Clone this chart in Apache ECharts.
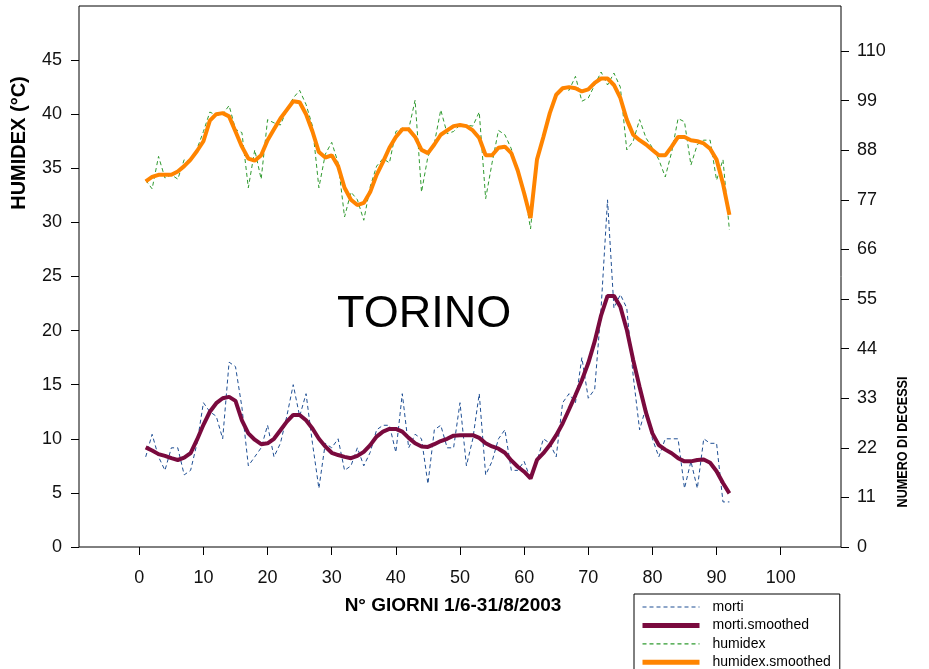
<!DOCTYPE html>
<html>
<head>
<meta charset="utf-8">
<script src="https://cdn.jsdelivr.net/npm/echarts@6/dist/echarts.min.js"></script>
<style>
  html, body { margin: 0; padding: 0; background: #fff; }
  #chart { width: 929px; height: 669px; }
</style>
</head>
<body>
<div id="chart"></div>
<script>
// Daily humidex (°C) and deaths, Torino, 1 June - 31 August 2003 (day 1..92)
const humidex = [
  33.9, 33.1, 36.1, 34.1, 34.4, 34.0, 35.8, 35.6, 36.8, 38.4,
  40.2, 39.9, 40.0, 40.8, 38.6, 38.3, 33.2, 36.7, 34.0, 39.5,
  39.2, 39.0, 40.4, 41.5, 42.2, 40.9, 38.9, 33.2, 36.3, 37.4,
  35.5, 30.5, 32.8, 32.1, 30.2, 33.3, 35.2, 35.9, 35.5, 38.4,
  38.7, 38.6, 41.3, 32.8, 36.1, 37.3, 40.4, 38.2, 38.4, 39.0,
  39.0, 38.9, 40.2, 32.2, 35.5, 38.5, 38.1, 36.8, 34.8, 33.0,
  29.4, 35.8, 38.1, 40.1, 41.6, 42.5, 42.2, 43.5, 41.2, 41.5,
  42.7, 43.9, 42.7, 43.8, 42.5, 36.7, 37.5, 39.5, 37.8, 36.9,
  35.8, 34.2, 36.5, 39.6, 39.3, 35.3, 37.2, 37.6, 37.6, 33.9,
  35.8, 29.3
];
const humidexSmoothed = [
  33.8, 34.2, 34.4, 34.4, 34.4, 34.7, 35.2, 35.8, 36.6, 37.5,
  39.4, 40.0, 40.1, 39.8, 38.4, 37.0, 35.9, 35.7, 36.2, 37.6,
  38.6, 39.6, 40.4, 41.2, 41.1, 40.0, 38.4, 36.5, 36.0, 36.2,
  35.2, 33.2, 32.1, 31.6, 31.8, 32.8, 34.4, 35.6, 36.9, 37.9,
  38.6, 38.6, 37.9, 36.7, 36.4, 37.2, 38.1, 38.5, 38.9, 39.0,
  38.9, 38.5, 37.8, 36.2, 36.2, 36.9, 37.0, 36.4, 34.8, 32.7,
  30.4, 35.8, 37.9, 40.1, 41.8, 42.4, 42.5, 42.4, 42.1, 42.3,
  42.9, 43.3, 43.3, 42.7, 41.5, 39.5, 38.1, 37.6, 37.2, 36.7,
  36.2, 36.2, 37.0, 37.9, 37.9, 37.6, 37.5, 37.3, 36.8, 35.8,
  33.6, 30.7
];
const morti = [
  20, 25, 20, 17, 22, 22, 16, 17, 23, 32,
  30, 29, 24, 41, 40, 31, 18, 20, 22, 27,
  20, 23, 29, 36, 29, 34, 23, 13, 23, 22,
  24, 17, 18, 22, 18, 21, 26, 27, 27, 21,
  34, 22, 25, 24, 14, 26, 27, 22, 22, 32,
  18, 24, 34, 16, 19, 24, 26, 17, 17, 19,
  15, 19, 24, 23, 20, 32, 34, 32, 42, 33,
  35, 53, 77, 53, 56, 53, 38, 26, 31, 24,
  20, 24, 24, 24, 13, 19, 13, 24, 23, 23,
  10, 10
];
const mortiSmoothed = [
  22.1, 21.4, 20.6, 20.2, 19.7, 19.3, 19.8, 20.8, 23.8, 27.1,
  30.0, 31.9, 33.0, 33.3, 32.4, 28.1, 25.2, 23.8, 22.8, 23.0,
  24.0, 25.9, 27.8, 29.3, 29.3, 28.1, 26.3, 24.0, 22.3, 20.9,
  20.4, 20.0, 19.7, 20.2, 21.1, 22.6, 24.5, 25.6, 26.2, 26.2,
  25.6, 24.2, 23.0, 22.3, 22.2, 22.8, 23.5, 24.0, 24.7, 24.8,
  24.8, 24.8, 24.2, 23.0, 22.3, 21.8, 20.9, 19.2, 17.8, 16.7,
  15.2, 19.3, 20.8, 22.6, 24.8, 27.4, 30.5, 33.7, 37.0, 40.8,
  45.6, 51.4, 55.7, 55.7, 53.3, 48.2, 41.5, 35.5, 29.8, 25.2,
  22.6, 21.6, 20.8, 19.7, 19.0, 19.0, 19.3, 19.4, 18.7, 16.8,
  14.2, 11.9
];

const xTicks = [0, 10, 20, 30, 40, 50, 60, 70, 80, 90, 100];
const humidexTicks = [0, 5, 10, 15, 20, 25, 30, 35, 40, 45];
const mortiTicks = [0, 11, 22, 33, 44, 55, 66, 77, 88, 99, 110];

const FONT = '"Liberation Sans", Arial, sans-serif';
const pairs = arr => arr.map((v, i) => [i + 1, v]);

const COLORS = {
  morti: '#1f4f94',
  mortiSmoothed: '#7a0a3e',
  humidex: '#2f9a2f',
  humidexSmoothed: '#ff8400'
};

const chart = echarts.init(document.getElementById('chart'), null, { renderer: 'canvas' });

const tickStyle = { color: '#000', width: 1 };
const labelStyle = { fontSize: 18, color: '#111', fontFamily: FONT };
const hiddenLine = { show: false, onZero: false };

chart.setOption({
  animation: false,
  backgroundColor: '#fff',
  grid: {
    left: 79, right: 88, top: 6, bottom: 122,
    show: true, borderColor: '#000', borderWidth: 1,
    outerBoundsMode: 'none'
  },
  xAxis: {
    type: 'value', min: -9.4, max: 109.4,
    axisLine: hiddenLine,
    splitLine: { show: false },
    axisTick: { show: true, length: 8, customValues: xTicks, lineStyle: tickStyle },
    axisLabel: Object.assign({ customValues: xTicks, margin: 22 }, labelStyle)
  },
  yAxis: [
    {
      type: 'value', min: 0, max: 50, position: 'left',
      axisLine: hiddenLine,
      splitLine: { show: false },
      axisTick: { show: true, length: 8, customValues: humidexTicks, lineStyle: tickStyle },
      axisLabel: Object.assign({ customValues: humidexTicks, margin: 17 }, labelStyle)
    },
    {
      type: 'value', min: 0, max: 120, position: 'right',
      axisLine: hiddenLine,
      splitLine: { show: false },
      axisTick: { show: true, length: 8, customValues: mortiTicks, lineStyle: tickStyle },
      axisLabel: Object.assign({ customValues: mortiTicks, margin: 16 }, labelStyle)
    }
  ],
  legend: {
    orient: 'vertical',
    left: 634, top: 594, height: 140,
    padding: [6, 9, 30, 6],
    itemWidth: 57, itemHeight: 12, itemGap: 4.4,
    borderColor: '#000', borderWidth: 1, borderRadius: 0,
    backgroundColor: '#fff',
    itemStyle: { opacity: 0 },
    textStyle: { fontSize: 14, lineHeight: 12, color: '#000', fontFamily: FONT, padding: [0, 0, 0, 8] },
    data: [
      { name: 'morti', lineStyle: { width: 1.2, type: [4, 3], color: COLORS.morti } },
      { name: 'morti.smoothed', lineStyle: { width: 5, color: COLORS.mortiSmoothed } },
      { name: 'humidex', lineStyle: { width: 1.2, type: [4, 3], color: COLORS.humidex } },
      { name: 'humidex.smoothed', lineStyle: { width: 5, color: COLORS.humidexSmoothed } }
    ]
  },
  series: [
    {
      name: 'morti', type: 'line', yAxisIndex: 1,
      data: pairs(morti), symbol: 'none',
      lineStyle: { color: COLORS.morti, width: 1, type: [4, 3] },
      itemStyle: { color: COLORS.morti }, z: 2
    },
    {
      name: 'morti.smoothed', type: 'line', yAxisIndex: 1,
      data: pairs(mortiSmoothed), symbol: 'none',
      lineStyle: { color: COLORS.mortiSmoothed, width: 4 },
      itemStyle: { color: COLORS.mortiSmoothed }, z: 3
    },
    {
      name: 'humidex', type: 'line', yAxisIndex: 0,
      data: pairs(humidex), symbol: 'none',
      lineStyle: { color: COLORS.humidex, width: 1, type: [4, 3] },
      itemStyle: { color: COLORS.humidex }, z: 4
    },
    {
      name: 'humidex.smoothed', type: 'line', yAxisIndex: 0,
      data: pairs(humidexSmoothed), symbol: 'none',
      lineStyle: { color: COLORS.humidexSmoothed, width: 4 },
      itemStyle: { color: COLORS.humidexSmoothed }, z: 5
    }
  ],
  graphic: [
    {
      type: 'text', left: 337, top: 292,
      style: { text: 'TORINO', font: '45px ' + FONT, fill: '#000' }
    },
    {
      type: 'text', x: 453, y: 606,
      style: { text: 'N° GIORNI 1/6-31/8/2003', font: 'bold 19px ' + FONT, fill: '#000',
               textAlign: 'center', textVerticalAlign: 'middle' }
    },
    {
      type: 'text', x: 19, y: 143, rotation: Math.PI / 2,
      style: { text: 'HUMIDEX (°C)', font: 'bold 20px ' + FONT, fill: '#000',
               textAlign: 'center', textVerticalAlign: 'middle' }
    },
    {
      type: 'text', x: 903, y: 442, rotation: Math.PI / 2, scaleX: 0.84,
      style: { text: 'NUMERO DI DECESSI', font: 'bold 15px ' + FONT, fill: '#000',
               textAlign: 'center', textVerticalAlign: 'middle' }
    }
  ]
});
</script>
</body>
</html>
